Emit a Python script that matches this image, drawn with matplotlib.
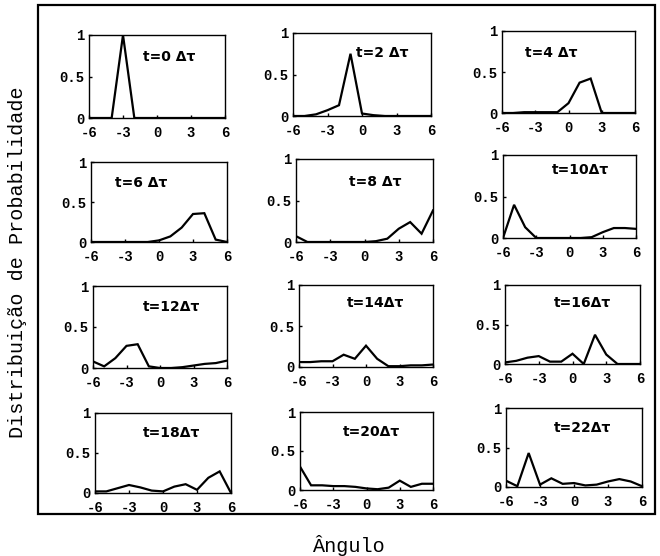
import numpy as np
import matplotlib
matplotlib.use("Agg")
import matplotlib.pyplot as plt
from matplotlib.patches import Rectangle

plt.rcParams["axes.unicode_minus"] = False

# Angular positions of the walker
angles = np.arange(-6, 7)

# Probability distribution at each time step (t = 0, 2, ..., 22 Δτ)
p_t0 = [0, 0, 0, 1.0, 0, 0, 0, 0, 0, 0, 0, 0, 0]
p_t2 = [0, 0, 0.02, 0.07, 0.13, 0.75, 0.03, 0.01, 0, 0, 0, 0, 0]
p_t4 = [0, 0, 0.01, 0.01, 0.01, 0.01, 0.12, 0.37, 0.42, 0.0, 0, 0, 0]
p_t6 = [0, 0, 0, 0, 0, 0, 0.02, 0.07, 0.18, 0.35, 0.36, 0.03, 0.0]
p_t8 = [0.07, 0.0, 0, 0, 0, 0, 0.0, 0.01, 0.04, 0.16, 0.24, 0.10, 0.38]
p_t10 = [0.0, 0.40, 0.13, 0.0, 0, 0, 0, 0, 0.01, 0.07, 0.12, 0.12, 0.11]
p_t12 = [0.08, 0.02, 0.12, 0.27, 0.29, 0.02, 0.0, 0.0, 0.01, 0.03, 0.05, 0.06, 0.09]
p_t14 = [0.06, 0.06, 0.07, 0.07, 0.15, 0.10, 0.26, 0.10, 0.01, 0.01, 0.02, 0.02, 0.03]
p_t16 = [0.02, 0.04, 0.08, 0.10, 0.03, 0.03, 0.13, 0.0, 0.37, 0.12, 0.0, 0.0, 0.0]
p_t18 = [0.02, 0.02, 0.06, 0.10, 0.07, 0.03, 0.02, 0.08, 0.11, 0.04, 0.19, 0.27, 0.0]
p_t20 = [0.30, 0.06, 0.06, 0.05, 0.05, 0.04, 0.02, 0.01, 0.03, 0.12, 0.04, 0.08, 0.08]
p_t22 = [0.08, 0.01, 0.43, 0.03, 0.11, 0.04, 0.05, 0.02, 0.03, 0.07, 0.10, 0.07, 0.01]

series = [p_t0, p_t2, p_t4, p_t6, p_t8, p_t10,
          p_t12, p_t14, p_t16, p_t18, p_t20, p_t22]
titles = ["t=0 Δτ", "t=2 Δτ", "t=4 Δτ", "t=6 Δτ", "t=8 Δτ", "t=10Δτ",
          "t=12Δτ", "t=14Δτ", "t=16Δτ", "t=18Δτ", "t=20Δτ", "t=22Δτ"]
x_ticks = [-6, -3, 0, 3, 6]
y_ticks = [0, 0.5, 1]
y_ticklabels = ["0", "0.5", "1"]

W, H = 660, 556
fig = plt.figure(figsize=(W / 100, H / 100), dpi=100)

# panel boxes in pixels: left, right, top, bottom
boxes = [
    (89, 225, 35, 118), (293, 431, 33, 116), (502, 635, 31, 113),
    (91, 227, 162, 242), (296, 433, 159, 242), (503, 636, 155, 238),
    (93, 227, 286, 368), (299, 433, 285, 367), (505, 640, 285, 364),
    (95, 231, 413, 493), (300, 433, 412, 490), (506, 642, 408, 487),
]
# label anchor (axes fraction) for each panel
label_pos = [
    (0.40, 0.73), (0.46, 0.76), (0.17, 0.73),
    (0.18, 0.74), (0.39, 0.72), (0.37, 0.82),
    (0.37, 0.74), (0.36, 0.78), (0.36, 0.77),
    (0.35, 0.75), (0.32, 0.74), (0.35, 0.75),
]

mono = "Liberation Mono"

for vals, title, (l, r, t, b), (tx, ty) in zip(series, titles, boxes, label_pos):
    ax = fig.add_axes([l / W, 1 - b / H, (r - l) / W, (b - t) / H])
    ax.plot(angles, vals, color="black", lw=1.6, solid_joinstyle="miter")
    ax.set_xlim(-6, 6)
    ax.set_ylim(0, 1)
    ax.set_xticks(x_ticks)
    ax.set_yticks(y_ticks)
    ax.set_yticklabels(y_ticklabels)
    ax.tick_params(direction="in", length=2, width=1, labelsize=10)
    ax.tick_params(axis="x", pad=6)
    ax.tick_params(axis="y", pad=3)
    for lab in ax.get_xticklabels() + ax.get_yticklabels():
        lab.set_fontfamily(mono)
        lab.set_fontweight("bold")
    for sp in ax.spines.values():
        sp.set_linewidth(1.0)
    ax.text(tx, ty, title, transform=ax.transAxes, ha="left", va="center",
            fontsize=10, fontweight="bold", family=["DejaVu Sans"])

# outer frame around all panels
fig.patches.append(Rectangle((38 / W, 1 - 514 / H), (655 - 38) / W, (514 - 5) / H,
                             transform=fig.transFigure, fill=False,
                             edgecolor="black", lw=1.6))

fig.text(18 / W, 1 - 262 / H, "Distribuição de Probabilidade", rotation=90,
         ha="center", va="center", family=mono, fontsize=14.5)
fig.text(348 / W, 1 - 545 / H, "Ângulo", ha="center", va="center",
         family=mono, fontsize=14.5)

fig.savefig("out.png", dpi=100)
